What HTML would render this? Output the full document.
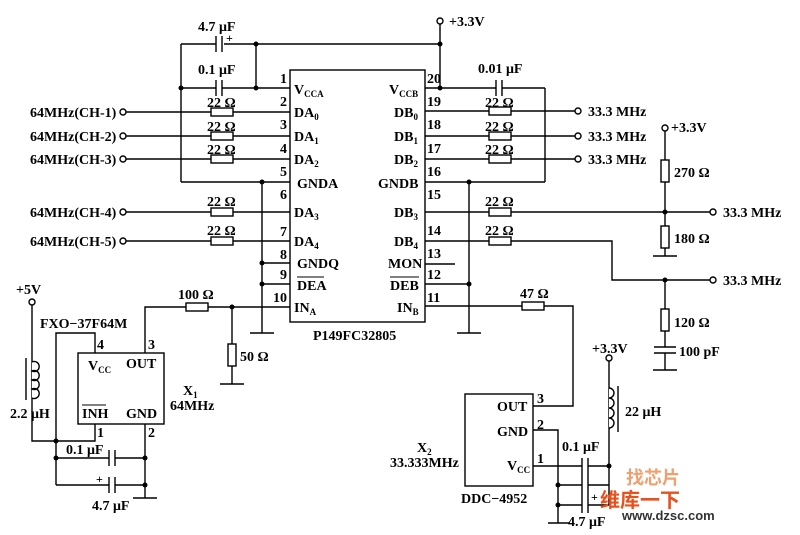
<!DOCTYPE html>
<html><head><meta charset="utf-8"><style>
html,body{margin:0;padding:0;background:#fff;}
svg{display:block;}
text{font-family:"Liberation Serif",serif;font-size:14px;fill:#000;font-weight:bold;}
.s{font-size:9px;}
</style></head><body>
<svg width="800" height="535" viewBox="0 0 800 535" xmlns="http://www.w3.org/2000/svg">
<g stroke="#000" stroke-width="1.4" fill="none">
<rect x="290" y="70" width="135" height="252"/>
<polyline points="181,44 216,44"/><polyline points="224,44 440,44"/>
<line x1="216" y1="36" x2="216" y2="52"/><line x1="222" y1="36" x2="222" y2="52"/>
<line x1="256" y1="44" x2="256" y2="88"/>
<polyline points="181,88 216,88"/><polyline points="222,88 290,88"/>
<line x1="216" y1="80" x2="216" y2="96"/><line x1="222" y1="80" x2="222" y2="96"/>
<line x1="181" y1="44" x2="181" y2="182"/>
<line x1="181" y1="182" x2="290" y2="182"/>
<line x1="262" y1="182" x2="262" y2="333"/>
<line x1="250" y1="333" x2="274" y2="333"/>
<line x1="262" y1="263" x2="290" y2="263"/>
<line x1="262" y1="284" x2="290" y2="284"/>
<line x1="440" y1="24" x2="440" y2="88"/>
<line x1="425" y1="88" x2="496" y2="88"/><line x1="502" y1="88" x2="545" y2="88"/>
<line x1="496" y1="80" x2="496" y2="96"/><line x1="502" y1="80" x2="502" y2="96"/>
<line x1="545" y1="88" x2="545" y2="182"/>
<line x1="425" y1="182" x2="545" y2="182"/>
<line x1="469" y1="182" x2="469" y2="333"/>
<line x1="457" y1="333" x2="481" y2="333"/>
<line x1="425" y1="284" x2="469" y2="284"/>
<line x1="425" y1="264" x2="455" y2="264"/>
<line x1="126" y1="112" x2="290" y2="112"/>
<line x1="126" y1="136" x2="290" y2="136"/>
<line x1="126" y1="159" x2="290" y2="159"/>
<line x1="126" y1="212" x2="290" y2="212"/>
<line x1="126" y1="241" x2="290" y2="241"/>
<line x1="425" y1="111" x2="575" y2="111"/>
<line x1="425" y1="136" x2="575" y2="136"/>
<line x1="425" y1="159" x2="575" y2="159"/>
<line x1="425" y1="212" x2="710" y2="212"/>
<polyline points="425,241 612,241 612,280 710,280"/>
<line x1="665" y1="131" x2="665" y2="256"/>
<line x1="653" y1="256" x2="677" y2="256"/>
<line x1="665" y1="280" x2="665" y2="347"/>
<line x1="665" y1="353" x2="665" y2="370"/>
<line x1="654" y1="347" x2="676" y2="347"/><line x1="654" y1="353" x2="676" y2="353"/>
<line x1="653" y1="370" x2="677" y2="370"/>
<polyline points="290,307 145,307 145,353"/>
<line x1="232" y1="307" x2="232" y2="384"/>
<line x1="220" y1="384" x2="244" y2="384"/>
<rect x="78" y="353" width="86" height="71"/>
<polyline points="95,353 95,333 56,333 56,485"/>
<polyline points="95,424 95,441 32,441 32,305"/>
<line x1="56" y1="458" x2="109" y2="458"/><line x1="115" y1="458" x2="145" y2="458"/>
<line x1="56" y1="485" x2="109" y2="485"/><line x1="115" y1="485" x2="145" y2="485"/>
<line x1="109" y1="450" x2="109" y2="466"/><line x1="115" y1="450" x2="115" y2="466"/>
<line x1="109" y1="477" x2="109" y2="493"/><line x1="115" y1="477" x2="115" y2="493"/>
<line x1="145" y1="424" x2="145" y2="498"/>
<line x1="133" y1="498" x2="157" y2="498"/>
<line x1="26" y1="358" x2="26" y2="400"/>
<polyline points="425,306 573,306 573,406 533,406"/>
<rect x="465" y="394" width="68" height="92"/>
<polyline points="533,430 558,430 558,523"/>
<line x1="548" y1="523" x2="570" y2="523"/>
<line x1="533" y1="466" x2="582" y2="466"/><line x1="588" y1="466" x2="609" y2="466"/>
<line x1="558" y1="485" x2="582" y2="485"/><line x1="588" y1="485" x2="609" y2="485"/>
<line x1="558" y1="505" x2="582" y2="505"/><line x1="588" y1="505" x2="609" y2="505"/>
<line x1="582" y1="458" x2="582" y2="513"/><line x1="588" y1="458" x2="588" y2="513"/>
<line x1="609" y1="361" x2="609" y2="505"/>
<line x1="618" y1="386" x2="618" y2="432"/>
</g>
<g stroke="#000" stroke-width="1.4" fill="#fff">
<rect x="211" y="108" width="22" height="8"/><rect x="211" y="132" width="22" height="8"/>
<rect x="211" y="155" width="22" height="8"/><rect x="211" y="208" width="22" height="8"/>
<rect x="211" y="237" width="22" height="8"/>
<rect x="489" y="107" width="22" height="8"/><rect x="489" y="132" width="22" height="8"/>
<rect x="489" y="155" width="22" height="8"/><rect x="489" y="208" width="22" height="8"/>
<rect x="489" y="237" width="22" height="8"/>
<rect x="661" y="160" width="8" height="22"/><rect x="661" y="226" width="8" height="22"/>
<rect x="661" y="309" width="8" height="22"/>
<rect x="186" y="303" width="22" height="8"/>
<rect x="228" y="344" width="8" height="22"/>
<rect x="522" y="302" width="22" height="8"/>
<path d="M32,362 a5,5 0 1,1 0,9 a5,5 0 1,1 0,9 a5,5 0 1,1 0,9 a5,5 0 1,1 0,9" fill="#fff"/>
<path d="M609,388 a5,5 0 1,1 0,10 a5,5 0 1,1 0,10 a5,5 0 1,1 0,10 a5,5 0 1,1 0,10" fill="#fff"/>
<circle cx="123" cy="112" r="3"/><circle cx="123" cy="136" r="3"/><circle cx="123" cy="159" r="3"/>
<circle cx="123" cy="212" r="3"/><circle cx="123" cy="241" r="3"/>
<circle cx="578" cy="111" r="3"/><circle cx="578" cy="136" r="3"/><circle cx="578" cy="159" r="3"/>
<circle cx="713" cy="212" r="3"/><circle cx="713" cy="280" r="3"/>
<circle cx="440" cy="21" r="3"/><circle cx="665" cy="128" r="3"/>
<circle cx="32" cy="302" r="3"/><circle cx="609" cy="358" r="3"/>
</g>
<g fill="#000">
<circle cx="256" cy="44" r="2.5"/><circle cx="256" cy="88" r="2.5"/><circle cx="181" cy="88" r="2.5"/>
<circle cx="262" cy="182" r="2.5"/><circle cx="262" cy="263" r="2.5"/><circle cx="262" cy="284" r="2.5"/>
<circle cx="440" cy="44" r="2.5"/><circle cx="440" cy="88" r="2.5"/><circle cx="469" cy="182" r="2.5"/>
<circle cx="469" cy="284" r="2.5"/><circle cx="665" cy="212" r="2.5"/><circle cx="665" cy="280" r="2.5"/>
<circle cx="232" cy="307" r="2.5"/><circle cx="56" cy="441" r="2.5"/><circle cx="56" cy="458" r="2.5"/>
<circle cx="145" cy="458" r="2.5"/><circle cx="145" cy="485" r="2.5"/>
<circle cx="609" cy="466" r="2.5"/><circle cx="558" cy="485" r="2.5"/><circle cx="558" cy="505" r="2.5"/>
</g>
<text x="198" y="31">4.7 μF</text><text x="226" y="42" style="font-size:12px">+</text>
<text x="198" y="74">0.1 μF</text>
<text x="449" y="26">+3.3V</text>
<text x="478" y="73">0.01 μF</text>
<text x="30" y="117">64MHz(CH-1)</text><text x="30" y="141">64MHz(CH-2)</text>
<text x="30" y="164">64MHz(CH-3)</text><text x="30" y="217">64MHz(CH-4)</text>
<text x="30" y="246">64MHz(CH-5)</text>
<g><text x="207" y="107">22 Ω</text><text x="207" y="131">22 Ω</text><text x="207" y="154">22 Ω</text>
<text x="207" y="206">22 Ω</text><text x="207" y="235">22 Ω</text>
<text x="485" y="107">22 Ω</text><text x="485" y="131">22 Ω</text><text x="485" y="154">22 Ω</text>
<text x="485" y="206">22 Ω</text><text x="485" y="235">22 Ω</text></g>
<text x="588" y="116">33.3 MHz</text><text x="588" y="141">33.3 MHz</text><text x="588" y="164">33.3 MHz</text>
<text x="723" y="217">33.3 MHz</text><text x="723" y="285">33.3 MHz</text>
<text x="671" y="132">+3.3V</text><text x="674" y="177">270 Ω</text><text x="674" y="243">180 Ω</text>
<text x="674" y="327">120 Ω</text><text x="679" y="356">100 pF</text>
<g style="font-size:13px"><text x="280" y="83">1</text><text x="280" y="106">2</text><text x="280" y="129">3</text>
<text x="280" y="153">4</text><text x="280" y="176">5</text><text x="280" y="199">6</text><text x="280" y="236">7</text>
<text x="280" y="259">8</text><text x="280" y="279">9</text><text x="273" y="302">10</text>
<text x="427" y="83">20</text><text x="427" y="106">19</text><text x="427" y="129">18</text><text x="427" y="153">17</text>
<text x="427" y="176">16</text><text x="427" y="199">15</text><text x="427" y="235">14</text><text x="427" y="258">13</text>
<text x="427" y="279">12</text><text x="427" y="302">11</text></g>
<text x="294" y="94">V<tspan class="s" dy="3">CCA</tspan></text>
<text x="294" y="117">DA<tspan class="s" dy="3">0</tspan></text><text x="294" y="141">DA<tspan class="s" dy="3">1</tspan></text>
<text x="294" y="164">DA<tspan class="s" dy="3">2</tspan></text><text x="297" y="188">GNDA</text>
<text x="294" y="217">DA<tspan class="s" dy="3">3</tspan></text><text x="294" y="246">DA<tspan class="s" dy="3">4</tspan></text>
<text x="297" y="268">GNDQ</text><text x="297" y="290">DEA</text><line x1="297" y1="277" x2="324" y2="277" stroke="#000"/>
<text x="294" y="312">IN<tspan class="s" dy="3">A</tspan></text>
<text x="389" y="94">V<tspan class="s" dy="3">CCB</tspan></text>
<text x="394" y="117">DB<tspan class="s" dy="3">0</tspan></text><text x="394" y="141">DB<tspan class="s" dy="3">1</tspan></text>
<text x="394" y="164">DB<tspan class="s" dy="3">2</tspan></text><text x="378" y="188">GNDB</text>
<text x="394" y="217">DB<tspan class="s" dy="3">3</tspan></text><text x="394" y="246">DB<tspan class="s" dy="3">4</tspan></text>
<text x="388" y="268">MON</text><text x="390" y="290">DEB</text><line x1="390" y1="277" x2="419" y2="277" stroke="#000"/>
<text x="397" y="312">IN<tspan class="s" dy="3">B</tspan></text>
<text x="313" y="340">P149FC32805</text>
<text x="178" y="299">100 Ω</text><text x="240" y="361">50 Ω</text>
<text x="520" y="298">47 Ω</text>
<text x="16" y="294">+5V</text><text x="40" y="328">FXO−37F64M</text>
<text x="10" y="418">2.2 μH</text>
<text x="88" y="370">V<tspan class="s" dy="3">CC</tspan></text><text x="126" y="368">OUT</text>
<text x="82" y="418">INH</text><line x1="82" y1="405" x2="106" y2="405" stroke="#000"/><text x="126" y="418">GND</text>
<g style="font-size:13px"><text x="97" y="349">4</text><text x="148" y="349">3</text><text x="97" y="437">1</text><text x="148" y="437">2</text></g>
<text x="183" y="395">X<tspan class="s" dy="3">1</tspan></text><text x="170" y="410">64MHz</text>
<text x="66" y="454">0.1 μF</text><text x="96" y="483" style="font-size:12px">+</text>
<text x="92" y="510">4.7 μF</text>
<text x="592" y="353">+3.3V</text><text x="625" y="416">22 μH</text>
<text x="497" y="411">OUT</text><text x="497" y="436">GND</text><text x="507" y="470">V<tspan class="s" dy="3">CC</tspan></text>
<g style="font-size:13px"><text x="537" y="403">3</text><text x="537" y="429">2</text><text x="537" y="463">1</text></g>
<text x="417" y="452">X<tspan class="s" dy="3">2</tspan></text><text x="390" y="467">33.333MHz</text>
<text x="461" y="503">DDC−4952</text>
<text x="562" y="451">0.1 μF</text><text x="591" y="501" style="font-size:12px">+</text>
<text x="568" y="526">4.7 μF</text>
<text x="600" y="507" style="font-family:'Noto Sans CJK SC',sans-serif;font-size:20px;fill:#e8501c">维库一下</text>
<text x="622" y="520" style="font-family:'Liberation Sans',sans-serif;font-size:13px;fill:#333">www.dzsc.com</text>
<text x="626" y="484" style="font-family:'Noto Sans CJK SC',sans-serif;font-size:18px;fill:#f0a070">找芯片</text>
</svg>
</body></html>
